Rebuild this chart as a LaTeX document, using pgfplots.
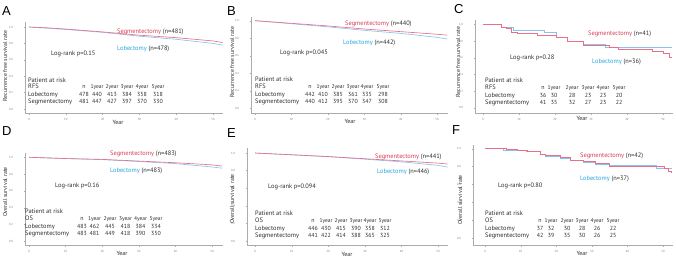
\documentclass[border=0pt]{standalone}
\usepackage{fontspec}
\setmainfont{PT Sans}
\newfontfamily\letterfont{Liberation Sans}
\usepackage{pgfplots}
\pgfplotsset{compat=1.18}
\definecolor{segline}{RGB}{232,112,138}
\definecolor{lobline}{RGB}{140,195,236}
\definecolor{segtext}{RGB}{215,60,85}
\definecolor{lobtext}{RGB}{40,165,222}
\definecolor{txt}{RGB}{45,45,45}
\newcommand\tabfont{\fontsize{6.4}{7}\selectfont}
\newcommand\numfont{\fontsize{5.9}{7}\selectfont}
\newcommand\hfont{\fontsize{5.5}{7}\selectfont}
\newcommand\PL[3]{\node[anchor=base west,inner sep=0pt,font=\tabfont,text=txt] at (#1pt,258pt-#2pt-2.2pt) {#3};}
\newcommand\PC[3]{\node[anchor=base,inner sep=0pt,font=\numfont,text=txt] at (#1pt,258pt-#2pt-2.2pt) {#3};}
\newcommand\PH[3]{\node[anchor=base,inner sep=0pt,font=\hfont,text=txt] at (#1pt,258pt-#2pt-2.2pt) {#3};}
\newcommand\setcols[6]{\def\ca{#1}\def\cb{#2}\def\cc{#3}\def\cd{#4}\def\ce{#5}\def\cf{#6}}
\newcommand\rrow[7]{\PC{\ca}{#1}{#2}\PC{\cb}{#1}{#3}\PC{\cc}{#1}{#4}\PC{\cd}{#1}{#5}\PC{\ce}{#1}{#6}\PC{\cf}{#1}{#7}}
\newcommand\hrow[1]{\PC{\ca}{#1}{n}\PH{\cb}{#1}{1year}\PH{\cc}{#1}{2year}\PH{\cd}{#1}{3year}\PH{\ce}{#1}{4year}\PH{\cf}{#1}{5year}}
\newcommand\Lett[3]{\node[anchor=base west,inner sep=0pt,font=\letterfont\fontsize{13}{13}\selectfont] at (#1pt,258pt-#2pt) {#3};}
\newcommand\YL[3]{\node[rotate=90,inner sep=0pt,font=\fontsize{5.8}{6}\selectfont,text=txt] at (#1pt,258pt-#2pt) {#3};}
\newcommand\XL[2]{\node[inner sep=0pt,font=\fontsize{6}{6}\selectfont,text=txt] at (#1pt,258pt-#2pt) {Year};}
\newcommand\SegL[3]{\node[anchor=base west,inner sep=0pt,font=\tabfont,text=txt] at (#1pt,258pt-#2pt-2.2pt) {\textcolor{segtext}{Segmentectomy} #3};}
\newcommand\LobL[3]{\node[anchor=base west,inner sep=0pt,font=\tabfont,text=txt] at (#1pt,258pt-#2pt-2.2pt) {\textcolor{lobtext}{Lobectomy} #3};}
\pgfplotsset{km/.style={scale only axis, anchor=south west,
  axis lines*=left, axis line style={gray!65, line width=0.4pt},
  tick style={gray!65, line width=0.3pt}, major tick length=1.5pt, tick align=outside,
  xtick={0,10,20,30,40,50}, ytick={0,0.2,0.4,0.6,0.8,1.0},
  ticklabel style={font=\fontsize{3}{3}\selectfont, text=gray},
  /pgf/number format/assume math mode=true,
  yticklabel style={/pgf/number format/fixed, /pgf/number format/fixed zerofill, /pgf/number format/precision=1, xshift=-7pt},
  every axis plot/.append style={line width=0.65pt}}}
\begin{document}
\begin{tikzpicture}[x=1pt,y=1pt]
\useasboundingbox (0,0) rectangle (676pt,258pt);
% ---------------- A ----------------
\begin{axis}[km, at={(25pt,145pt)}, width=198pt, height=91pt,
  xmin=-1.09, xmax=52.7, ymin=-0.049, ymax=1.061]
\addplot[lobline] coordinates {(0,1.0) (5,0.985) (10,0.97) (20,0.935) (30,0.888) (40,0.85) (50,0.80) (52.6,0.78)};
\addplot[segline] coordinates {(0,1.0) (5,0.99) (10,0.975) (20,0.94) (30,0.90) (40,0.87) (50,0.83) (52.6,0.81)};
\end{axis}
\Lett{2}{15}{A}
\YL{5}{66}{Recurrence free survival rate}
\XL{118}{122}
\SegL{117}{31}{(n=481)}
\LobL{117}{48}{(n=478)}
\PL{51}{53}{Log-rank p=0.15}
\PL{28}{80}{Patient at risk}
\PL{28}{86.5}{RFS}
\PL{28}{94}{Lobectomy}
\PL{28}{101}{Segmentectomy}
\setcols{84}{97}{112}{127}{142}{158}
\hrow{86.5}
\rrow{94}{478}{440}{413}{384}{358}{318}
\rrow{101}{481}{447}{427}{397}{370}{330}
% ---------------- B ----------------
\begin{axis}[km, at={(251pt,145pt)}, width=197pt, height=96pt,
  xmin=-1.1, xmax=53.0, ymin=-0.054, ymax=1.042]
\addplot[lobline] coordinates {(0,1.0) (10,0.965) (20,0.93) (30,0.89) (40,0.855) (50,0.81) (52.8,0.79)};
\addplot[segline] coordinates {(0,1.0) (10,0.97) (20,0.94) (30,0.905) (40,0.875) (50,0.845) (52.8,0.835)};
\end{axis}
\Lett{227}{15}{B}
\YL{232}{62}{Recurrence free survival rate}
\XL{350}{121}
\SegL{345}{23}{(n=440)}
\LobL{343}{42}{(n=442)}
\PL{280}{52}{Log-rank p=0.045}
\PL{255}{79.3}{Patient at risk}
\PL{255}{86.7}{RFS}
\PL{255}{94}{Lobectomy}
\PL{255}{101}{Segmentectomy}
\setcols{310}{323}{338}{353}{367}{383}
\hrow{86.7}
\rrow{94}{442}{410}{385}{361}{335}{298}
\rrow{101}{440}{412}{395}{370}{347}{308}
% ---------------- C ----------------
\begin{axis}[km, at={(475pt,145pt)}, width=198pt, height=93pt,
  xmin=-2.2, xmax=52.8, ymin=-0.064, ymax=1.052]
\addplot[lobline, const plot] coordinates {(0,1.0) (5.2,0.97) (8.5,0.93) (17,0.90) (20.5,0.85) (23.5,0.80) (28,0.76) (34,0.73) (52.6,0.73)};
\addplot[segline, const plot] coordinates {(0,1.0) (5.2,0.97) (6.5,0.95) (8,0.91) (9.5,0.89) (15,0.87) (20.5,0.84) (23.5,0.80) (28,0.75) (35,0.72) (37.5,0.70) (47,0.68) (50,0.65) (51.8,0.61) (52.6,0.61)};
\end{axis}
\Lett{454}{13.5}{C}
\YL{458}{62}{Recurrence free survival rate}
\XL{582}{118}
\SegL{588}{33}{(n=41)}
\LobL{592}{61}{(n=36)}
\PL{510}{57}{Log-rank p=0.28}
\PL{485}{80}{Patient at risk}
\PL{485}{87}{RFS}
\PL{485}{95}{Lobectomy}
\PL{485}{102}{Segmentectomy}
\setcols{543}{554}{572}{588}{603}{619}
\hrow{87}
\rrow{95}{36}{30}{28}{23}{23}{20}
\rrow{102}{41}{35}{32}{27}{23}{22}
% ---------------- D ----------------
\begin{axis}[km, at={(25pt,13pt)}, width=198pt, height=92pt,
  xmin=-1.1, xmax=53.0, ymin=-0.044, ymax=1.051]
\addplot[lobline] coordinates {(0,1.0) (10,0.985) (20,0.972) (30,0.95) (40,0.925) (50,0.885) (52.8,0.87)};
\addplot[segline] coordinates {(0,1.0) (10,0.985) (20,0.975) (30,0.955) (40,0.935) (50,0.91) (52.8,0.895)};
\end{axis}
\Lett{2}{135}{D}
\YL{5}{192}{Overall survival rate}
\XL{122}{253}
\SegL{110}{153}{(n=483)}
\LobL{110}{170}{(n=483)}
\PL{55}{185}{Log-rank p=0.16}
\PL{25}{211}{Patient at risk}
\PL{25}{218.5}{OS}
\PL{25}{226}{Lobectomy}
\PL{25}{233.5}{Segmentectomy}
\setcols{82}{94.5}{110}{125.5}{140.5}{156}
\hrow{218.5}
\rrow{226}{483}{462}{445}{418}{384}{334}
\rrow{233.5}{483}{481}{449}{418}{390}{350}
% ---------------- E ----------------
\begin{axis}[km, at={(247pt,13pt)}, width=201pt, height=97pt,
  xmin=-2.2, xmax=52.7, ymin=-0.045, ymax=1.057]
\addplot[lobline] coordinates {(0,1.0) (10,0.98) (20,0.958) (30,0.93) (40,0.90) (50,0.86) (52.6,0.84)};
\addplot[segline] coordinates {(0,1.0) (10,0.98) (20,0.96) (30,0.935) (40,0.91) (50,0.885) (52.6,0.875)};
\end{axis}
\Lett{227}{137}{E}
\YL{232}{199}{Overall survival rate}
\XL{347}{254}
\SegL{375}{156}{(n=441)}
\LobL{377}{171}{(n=446)}
\PL{268}{186}{Log-rank p=0.094}
\PL{255}{213}{Patient at risk}
\PL{255}{220}{OS}
\PL{255}{228}{Lobectomy}
\PL{255}{235}{Segmentectomy}
\setcols{313}{326}{341}{356}{370}{385}
\hrow{220}
\rrow{228}{446}{430}{415}{390}{358}{312}
\rrow{235}{441}{422}{414}{388}{365}{325}
% ---------------- F ----------------
\begin{axis}[km, at={(473pt,13pt)}, width=200pt, height=100pt,
  xmin=-3.4, xmax=52.8, ymin=-0.078, ymax=1.041]
\addplot[lobline, const plot] coordinates {(0,1.0) (5,0.985) (11.5,0.965) (15.5,0.94) (17,0.915) (21,0.895) (24,0.87) (27.5,0.85) (31,0.83) (35,0.81) (48,0.78) (52.6,0.78)};
\addplot[segline, const plot] coordinates {(0,1.0) (6,0.99) (9,0.98) (12,0.965) (15.5,0.94) (17,0.925) (21,0.905) (24,0.875) (27.5,0.855) (31,0.835) (35,0.805) (50.5,0.78) (51.5,0.75) (52.2,0.73) (52.6,0.73)};
\end{axis}
\Lett{452}{134}{F}
\YL{460}{200}{Overall survival rate}
\XL{582}{253}
\SegL{580}{155}{(n=42)}
\LobL{580}{178}{(n=37)}
\PL{498}{185}{Log-rank p=0.80}
\PL{485}{213}{Patient at risk}
\PL{485}{220}{OS}
\PL{485}{228}{Lobectomy}
\PL{485}{235}{Segmentectomy}
\setcols{540}{551}{567}{582}{597}{613}
\hrow{220}
\rrow{228}{37}{32}{30}{28}{26}{22}
\rrow{235}{42}{39}{35}{30}{26}{25}
\end{tikzpicture}
\end{document}
